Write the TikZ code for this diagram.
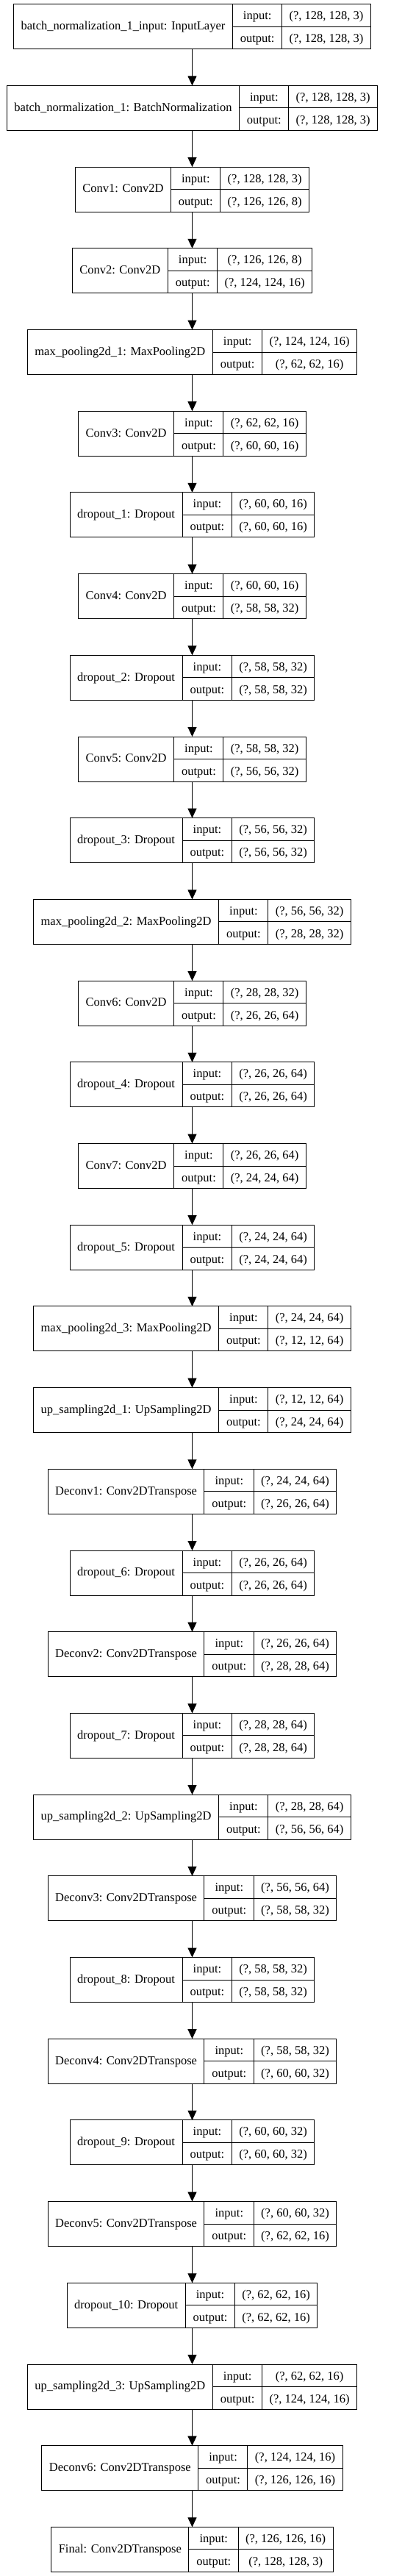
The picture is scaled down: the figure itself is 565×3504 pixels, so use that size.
\documentclass[tikz,border=0pt]{standalone}
\usepackage{fontspec}
\setmainfont{Liberation Serif}
\usetikzlibrary{arrows.meta, positioning}

\setlength{\tabcolsep}{10pt}
\setlength{\arrayrulewidth}{1pt}
\renewcommand{\arraystretch}{1.5}

% one keras layer record: name | input/output | shapes
\newcommand{\layerrec}[3]{%
  \begin{tabular}{c|@{}c@{}}
    #1 & \begin{tabular}{c|c} input: & #2\\ \hline output: & #3 \end{tabular}
  \end{tabular}}

\begin{document}
\begin{tikzpicture}[
        node distance=49.7pt,
        layer/.style={draw, line width=1pt, inner sep=0pt, outer sep=0pt, font=\fontsize{16.5}{20}\selectfont},
        flow/.style={-{Triangle[length=13pt, width=12pt]}, line width=1pt}
    ]
    \useasboundingbox (0,0) rectangle (565pt,-3504pt);

    % Layers
    \node[layer] (inp) at (261.5pt,-36.2pt) {\layerrec{batch\_normalization\_1\_input: InputLayer}{(?, 128, 128, 3)}{(?, 128, 128, 3)}};
    \node[layer, below=of inp] (bn1) {\layerrec{batch\_normalization\_1: BatchNormalization}{(?, 128, 128, 3)}{(?, 128, 128, 3)}};
    \node[layer, below=of bn1] (conv1) {\layerrec{Conv1: Conv2D}{(?, 128, 128, 3)}{(?, 126, 126, 8)}};
    \node[layer, below=of conv1] (conv2) {\layerrec{Conv2: Conv2D}{(?, 126, 126, 8)}{(?, 124, 124, 16)}};
    \node[layer, below=of conv2] (pool1) {\layerrec{max\_pooling2d\_1: MaxPooling2D}{(?, 124, 124, 16)}{(?, 62, 62, 16)}};
    \node[layer, below=of pool1] (conv3) {\layerrec{Conv3: Conv2D}{(?, 62, 62, 16)}{(?, 60, 60, 16)}};
    \node[layer, below=of conv3] (drop1) {\layerrec{dropout\_1: Dropout}{(?, 60, 60, 16)}{(?, 60, 60, 16)}};
    \node[layer, below=of drop1] (conv4) {\layerrec{Conv4: Conv2D}{(?, 60, 60, 16)}{(?, 58, 58, 32)}};
    \node[layer, below=of conv4] (drop2) {\layerrec{dropout\_2: Dropout}{(?, 58, 58, 32)}{(?, 58, 58, 32)}};
    \node[layer, below=of drop2] (conv5) {\layerrec{Conv5: Conv2D}{(?, 58, 58, 32)}{(?, 56, 56, 32)}};
    \node[layer, below=of conv5] (drop3) {\layerrec{dropout\_3: Dropout}{(?, 56, 56, 32)}{(?, 56, 56, 32)}};
    \node[layer, below=of drop3] (pool2) {\layerrec{max\_pooling2d\_2: MaxPooling2D}{(?, 56, 56, 32)}{(?, 28, 28, 32)}};
    \node[layer, below=of pool2] (conv6) {\layerrec{Conv6: Conv2D}{(?, 28, 28, 32)}{(?, 26, 26, 64)}};
    \node[layer, below=of conv6] (drop4) {\layerrec{dropout\_4: Dropout}{(?, 26, 26, 64)}{(?, 26, 26, 64)}};
    \node[layer, below=of drop4] (conv7) {\layerrec{Conv7: Conv2D}{(?, 26, 26, 64)}{(?, 24, 24, 64)}};
    \node[layer, below=of conv7] (drop5) {\layerrec{dropout\_5: Dropout}{(?, 24, 24, 64)}{(?, 24, 24, 64)}};
    \node[layer, below=of drop5] (pool3) {\layerrec{max\_pooling2d\_3: MaxPooling2D}{(?, 24, 24, 64)}{(?, 12, 12, 64)}};
    \node[layer, below=of pool3] (up1) {\layerrec{up\_sampling2d\_1: UpSampling2D}{(?, 12, 12, 64)}{(?, 24, 24, 64)}};
    \node[layer, below=of up1] (deconv1) {\layerrec{Deconv1: Conv2DTranspose}{(?, 24, 24, 64)}{(?, 26, 26, 64)}};
    \node[layer, below=of deconv1] (drop6) {\layerrec{dropout\_6: Dropout}{(?, 26, 26, 64)}{(?, 26, 26, 64)}};
    \node[layer, below=of drop6] (deconv2) {\layerrec{Deconv2: Conv2DTranspose}{(?, 26, 26, 64)}{(?, 28, 28, 64)}};
    \node[layer, below=of deconv2] (drop7) {\layerrec{dropout\_7: Dropout}{(?, 28, 28, 64)}{(?, 28, 28, 64)}};
    \node[layer, below=of drop7] (up2) {\layerrec{up\_sampling2d\_2: UpSampling2D}{(?, 28, 28, 64)}{(?, 56, 56, 64)}};
    \node[layer, below=of up2] (deconv3) {\layerrec{Deconv3: Conv2DTranspose}{(?, 56, 56, 64)}{(?, 58, 58, 32)}};
    \node[layer, below=of deconv3] (drop8) {\layerrec{dropout\_8: Dropout}{(?, 58, 58, 32)}{(?, 58, 58, 32)}};
    \node[layer, below=of drop8] (deconv4) {\layerrec{Deconv4: Conv2DTranspose}{(?, 58, 58, 32)}{(?, 60, 60, 32)}};
    \node[layer, below=of deconv4] (drop9) {\layerrec{dropout\_9: Dropout}{(?, 60, 60, 32)}{(?, 60, 60, 32)}};
    \node[layer, below=of drop9] (deconv5) {\layerrec{Deconv5: Conv2DTranspose}{(?, 60, 60, 32)}{(?, 62, 62, 16)}};
    \node[layer, below=of deconv5] (drop10) {\layerrec{dropout\_10: Dropout}{(?, 62, 62, 16)}{(?, 62, 62, 16)}};
    \node[layer, below=of drop10] (up3) {\layerrec{up\_sampling2d\_3: UpSampling2D}{(?, 62, 62, 16)}{(?, 124, 124, 16)}};
    \node[layer, below=of up3] (deconv6) {\layerrec{Deconv6: Conv2DTranspose}{(?, 124, 124, 16)}{(?, 126, 126, 16)}};
    \node[layer, below=of deconv6] (final) {\layerrec{Final: Conv2DTranspose}{(?, 126, 126, 16)}{(?, 128, 128, 3)}};

    % Edges
    \draw[flow] (inp) -- (bn1);
    \draw[flow] (bn1) -- (conv1);
    \draw[flow] (conv1) -- (conv2);
    \draw[flow] (conv2) -- (pool1);
    \draw[flow] (pool1) -- (conv3);
    \draw[flow] (conv3) -- (drop1);
    \draw[flow] (drop1) -- (conv4);
    \draw[flow] (conv4) -- (drop2);
    \draw[flow] (drop2) -- (conv5);
    \draw[flow] (conv5) -- (drop3);
    \draw[flow] (drop3) -- (pool2);
    \draw[flow] (pool2) -- (conv6);
    \draw[flow] (conv6) -- (drop4);
    \draw[flow] (drop4) -- (conv7);
    \draw[flow] (conv7) -- (drop5);
    \draw[flow] (drop5) -- (pool3);
    \draw[flow] (pool3) -- (up1);
    \draw[flow] (up1) -- (deconv1);
    \draw[flow] (deconv1) -- (drop6);
    \draw[flow] (drop6) -- (deconv2);
    \draw[flow] (deconv2) -- (drop7);
    \draw[flow] (drop7) -- (up2);
    \draw[flow] (up2) -- (deconv3);
    \draw[flow] (deconv3) -- (drop8);
    \draw[flow] (drop8) -- (deconv4);
    \draw[flow] (deconv4) -- (drop9);
    \draw[flow] (drop9) -- (deconv5);
    \draw[flow] (deconv5) -- (drop10);
    \draw[flow] (drop10) -- (up3);
    \draw[flow] (up3) -- (deconv6);
    \draw[flow] (deconv6) -- (final);

\end{tikzpicture}
\end{document}
